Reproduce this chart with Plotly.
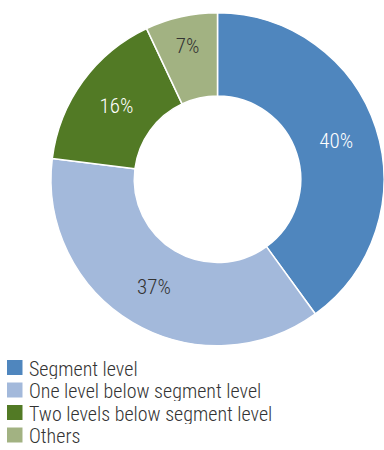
import plotly.graph_objects as go

# Share of responses by organisational level
categories = [
    "Segment level",
    "One level below segment level",
    "Two levels below segment level",
    "Others",
]
shares = [40, 37, 16, 7]
colors = ["#4F86BE", "#A3B9DB", "#527A25", "#A2B282"]
label_colors = ["#FFFFFF", "#333333", "#FFFFFF", "#333333"]

FONT = "Roboto Condensed Light, Roboto Condensed, Roboto, sans-serif"
W, H = 384, 450


def px_x(x):
    return min(max(x / W, 0.0), 1.0)


def px_y(y):
    return min(max(1 - y / H, 0.0), 1.0)


fig = go.Figure(
    go.Pie(
        labels=categories,
        values=shares,
        hole=0.5,
        sort=False,
        direction="clockwise",
        rotation=0,
        marker=dict(colors=colors, line=dict(color="white", width=1.5)),
        texttemplate="%{value}%",
        textposition="inside",
        insidetextorientation="horizontal",
        textfont=dict(family=FONT, size=21, color=label_colors),
        domain=dict(x=[px_x(51), px_x(384)], y=[px_y(346), px_y(12.5)]),
        showlegend=False,
        hoverinfo="label+percent",
    )
)

# Legend drawn below the donut: coloured square plus category name per row
row_top = 367.5
row_step = 22.5
for i, (name, col) in enumerate(zip(categories, colors)):
    cy = row_top + i * row_step
    fig.add_shape(
        type="rect",
        xref="paper", yref="paper",
        x0=px_x(7), x1=px_x(22.5),
        y0=px_y(cy + 7.5), y1=px_y(cy - 7.5),
        fillcolor=col, line=dict(width=0),
    )
    fig.add_annotation(
        xref="paper", yref="paper",
        x=px_x(27), y=px_y(cy + 1),
        xanchor="left", yanchor="middle",
        height=20, valign="middle",
        text=name, showarrow=False,
        font=dict(family=FONT, size=20, color="#333333"),
    )

fig.update_layout(
    width=W,
    height=H,
    margin=dict(l=0, r=0, t=0, b=0, autoexpand=False),
    paper_bgcolor="white",
    plot_bgcolor="white",
    font=dict(family=FONT, color="#333333"),
)

fig.write_html("out.html")
